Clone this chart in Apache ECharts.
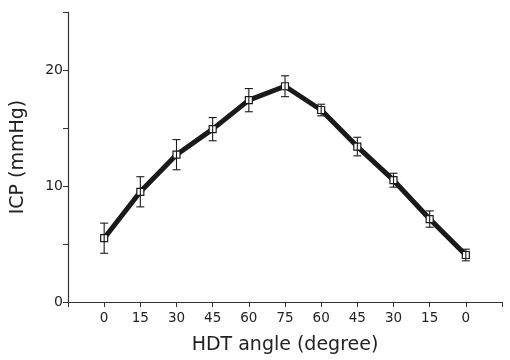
<!DOCTYPE html>
<html><head><meta charset="utf-8">
<script src="https://cdn.jsdelivr.net/npm/echarts@6/dist/echarts.min.js"></script>
<style>html,body{margin:0;padding:0;background:#fff}#c{width:510px;height:360px}</style>
</head><body><div id="c"></div>
<script>
const angleLabels = ['0','15','30','45','60','75','60','45','30','15','0'];
const icpMean = [5.5, 9.5, 12.7, 14.9, 17.4, 18.6, 16.55, 13.4, 10.5, 7.15, 4.05];
const icpErr  = [1.3, 1.3, 1.3, 1.0, 1.0, 0.9, 0.5, 0.8, 0.6, 0.7, 0.5];
const yTickLabels = [0, 10, 20];

const lineData = icpMean.map((v, i) => [i, v]);
const errData = icpMean.map((v, i) => [i, v - icpErr[i], v + icpErr[i]]);

const chart = echarts.init(document.getElementById('c'));
chart.setOption({
  animation: false,
  backgroundColor: '#fff',
  grid: {left: 68, right: 8, top: 12, bottom: 58, containLabel: false, outerBoundsMode: 'none'},
  xAxis: {
    type: 'value', min: -1, max: 11, interval: 1,
    name: 'HDT angle (degree)', nameLocation: 'middle', nameGap: 34,
    nameTextStyle: {fontFamily: 'DejaVu Sans', fontSize: 19, color: '#222'},
    axisLine: {onZero: false, lineStyle: {color: '#333', width: 1.2}},
    axisTick: {show: true, length: 5, lineStyle: {color: '#333'}},
    axisLabel: {
      margin: 9, fontFamily: 'DejaVu Sans', fontSize: 13.5, color: '#222',
      formatter: v => (v >= 0 && v < angleLabels.length) ? angleLabels[v] : ''
    },
    splitLine: {show: false}
  },
  yAxis: {
    type: 'value', min: 0, max: 25, interval: 5,
    name: 'ICP (mmHg)', nameLocation: 'middle', nameGap: 40,
    nameTextStyle: {fontFamily: 'DejaVu Sans', fontSize: 19, color: '#222'},
    axisLine: {show: true, onZero: false, lineStyle: {color: '#333', width: 1.2}},
    axisTick: {show: true, length: 5, lineStyle: {color: '#333'}},
    axisLabel: {
      margin: 5, fontFamily: 'DejaVu Sans', fontSize: 14, color: '#222',
      formatter: v => yTickLabels.includes(v) ? String(v) : ''
    },
    splitLine: {show: false}
  },
  series: [
    {
      type: 'line', data: lineData, z: 2,
      lineStyle: {color: '#1a1a1a', width: 5},
      symbol: 'rect', symbolSize: 7,
      itemStyle: {color: '#fff', borderColor: '#1a1a1a', borderWidth: 1.2}
    },
    {
      type: 'custom', data: errData, z: 3,
      renderItem: (params, api) => {
        const x = api.value(0);
        const lo = api.coord([x, api.value(1)]);
        const hi = api.coord([x, api.value(2)]);
        const w = 4;
        const st = {stroke: '#1a1a1a', lineWidth: 1.1};
        return {type: 'group', children: [
          {type: 'line', shape: {x1: hi[0], y1: hi[1], x2: lo[0], y2: lo[1]}, style: st},
          {type: 'line', shape: {x1: hi[0]-w, y1: hi[1], x2: hi[0]+w, y2: hi[1]}, style: st},
          {type: 'line', shape: {x1: lo[0]-w, y1: lo[1], x2: lo[0]+w, y2: lo[1]}, style: st}
        ]};
      }
    }
  ]
});
</script></body></html>
